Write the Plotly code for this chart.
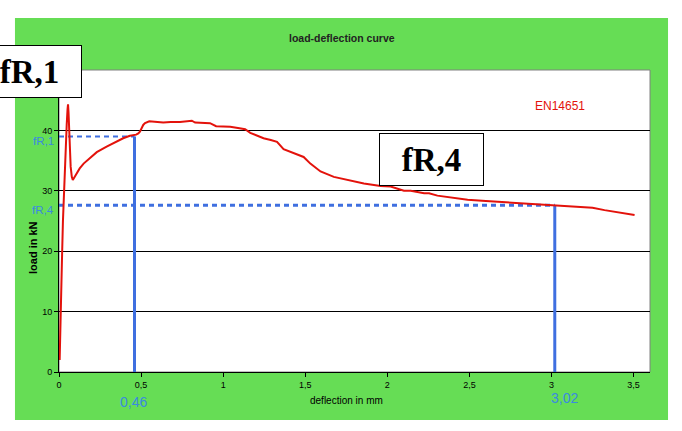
import plotly.graph_objects as go

# ---- data ----
deflection_mm = [0.004, 0.01, 0.015, 0.018, 0.024, 0.031, 0.039, 0.047, 0.052, 0.055,
                 0.058, 0.062, 0.067, 0.071, 0.078, 0.084, 0.095, 0.11, 0.126, 0.15,
                 0.188, 0.23, 0.29, 0.34, 0.391, 0.432, 0.452, 0.47, 0.483, 0.493,
                 0.513, 0.524, 0.55, 0.574, 0.6, 0.635, 0.68, 0.737, 0.78, 0.809,
                 0.829, 0.87, 0.92, 0.957, 1.0, 1.043, 1.09, 1.134, 1.165, 1.2,
                 1.246, 1.29, 1.328, 1.368, 1.42, 1.49, 1.531, 1.593, 1.674, 1.76,
                 1.857, 1.959, 2.02, 2.101, 2.142, 2.224, 2.254, 2.305, 2.4, 2.489,
                 2.6, 2.712, 2.85, 3.018, 3.16, 3.25, 3.323, 3.445, 3.506]
load_kN = [2, 7.5, 13, 18.5, 25, 30.6, 36, 41, 43.5, 44.3,
           43, 40, 36, 34, 32.3, 31.8, 32.3, 33, 33.7, 34.5,
           35.4, 36.4, 37.3, 38.0, 38.7, 39.1, 39.2, 39.3, 39.5, 39.8,
           40.9, 41.2, 41.5, 41.5, 41.4, 41.3, 41.4, 41.4, 41.5, 41.6,
           41.3, 41.3, 41.2, 40.7, 40.7, 40.6, 40.4, 40.2, 39.6, 39.2,
           38.7, 38.4, 38.1, 36.9, 36.3, 35.6, 34.5, 33.2, 32.3, 31.8,
           31.2, 30.8, 30.7, 30.0, 30.0, 29.6, 29.6, 29.2, 28.9, 28.5,
           28.3, 28.1, 27.9, 27.65, 27.4, 27.2, 26.8, 26.3, 26.0]

fr_labels = ["fR,1", "fR,4"]
fr_deflection = [0.46, 3.02]
fr_load = [39.0, 27.6]
fr_deflection_text = ["0,46", "3,02"]

x_tickvals = [0, 0.5, 1, 1.5, 2, 2.5, 3, 3.5]
x_ticktext = ["0", "0,5", "1", "1,5", "2", "2,5", "3", "3,5"]
y_tickvals = [0, 10, 20, 30, 40]
y_ticktext = ["0", "10", "20", "30", "40"]

BLUE = "#3f6fe0"
BLUE_TXT = "#3a8ae0"
RED = "#e3120b"
GREEN = "#66dd55"

fig = go.Figure()

# blue guide lines
dash_widths = [2, 3]
for i in range(len(fr_labels)):
    fig.add_trace(go.Scatter(x=[0, fr_deflection[i]], y=[fr_load[i], fr_load[i]],
                             mode="lines", line=dict(color=BLUE, width=dash_widths[i], dash="5px,4px"),
                             hoverinfo="skip", showlegend=False))
    fig.add_trace(go.Scatter(x=[fr_deflection[i], fr_deflection[i]], y=[0, fr_load[i]],
                             mode="lines", line=dict(color=BLUE, width=3),
                             hoverinfo="skip", showlegend=False))

fig.add_trace(go.Scatter(x=deflection_mm, y=load_kN, mode="lines",
                         line=dict(color=RED, width=2), name="EN14651", showlegend=False))

FONT = "Liberation Sans, Arial, sans-serif"
NARROW = "Liberation Sans Narrow, Arial Narrow, Liberation Sans, Arial, sans-serif"

fig.update_layout(
    width=682, height=431,
    margin=dict(l=59, r=32, t=70, b=59),
    paper_bgcolor="white", plot_bgcolor="white",
    font=dict(family=FONT, size=9, color="black"),
    showlegend=False,
    xaxis=dict(range=[0, 3.6], tickvals=x_tickvals, ticktext=x_ticktext,
               showgrid=False, zeroline=False, showline=True, linecolor="black", linewidth=1,
               ticks="outside", ticklen=4, tickcolor="black", tickfont=dict(size=9)),
    yaxis=dict(range=[0, 50], tickvals=y_tickvals, ticktext=y_ticktext,
               showgrid=True, gridcolor="black", gridwidth=1, zeroline=False,
               showline=True, linecolor="black", linewidth=1,
               ticks="outside", ticklen=4, tickcolor="black", tickfont=dict(size=9)),
    shapes=[
        dict(type="rect", xref="paper", yref="paper", x0=-0.0745, x1=1.0305, y0=-0.159, y1=1.172,
             fillcolor=GREEN, line=dict(width=0), layer="below"),
        dict(type="rect", xref="paper", yref="paper", x0=0, x1=1, y0=0, y1=1,
             fillcolor="white", line=dict(color="#808080", width=1), layer="below"),
    ],
)

W, H, L, T = 591, 302, 59, 70
def px2paper(px, py):
    return (px - L) / W, 1 - (py - T) / H

annotations = [
    dict(text="<b>load-deflection curve</b>", x=341.7, y=38, font=dict(size=10.5, color="#222222")),
    dict(text="EN14651", x=560, y=106, font=dict(size=12, color=RED)),
    dict(text="deflection in mm", x=346, y=400, font=dict(size=10, color="black")),
    dict(text="<b>load in kN</b>", x=33, y=248, font=dict(size=11, color="black"), textangle=-90),
]
for a in annotations:
    xp, yp = px2paper(a["x"], a["y"])
    fig.add_annotation(text=a["text"], xref="paper", yref="paper", x=xp, y=yp,
                       xanchor="center", yanchor="middle", showarrow=False,
                       font=dict(family=FONT, **a["font"]), textangle=a.get("textangle", 0))

# blue labels on axes
for i in range(len(fr_labels)):
    fig.add_annotation(text=fr_labels[i], xref="paper", yref="y", x=-4 / W, y=fr_load[i],
                       xanchor="right", yanchor="middle", showarrow=False, yshift=-5, borderpad=0,
                       font=dict(family=NARROW, size=11.5, color=BLUE_TXT))
label_y_px = [402, 398]
label_x_px = [133, 564]
for i in range(len(fr_labels)):
    xp, yp = px2paper(label_x_px[i], label_y_px[i])
    fig.add_annotation(text=fr_deflection_text[i], xref="paper", yref="paper", x=xp, y=yp,
                       xanchor="center", yanchor="middle", showarrow=False,
                       font=dict(family=NARROW, size=14, color=BLUE_TXT))

# big boxed labels
box_centers = [(29.5, 71.5), (431.5, 159.5)]
for i in range(len(fr_labels)):
    xp, yp = px2paper(*box_centers[i])
    fig.add_annotation(text="<b>" + fr_labels[i] + "</b>", xref="paper", yref="paper", x=xp, y=yp,
                       xanchor="center", yanchor="middle", showarrow=False,
                       width=93, height=41, borderpad=5, borderwidth=1, bordercolor="black",
                       bgcolor="white",
                       font=dict(family="Liberation Serif, Times New Roman, serif", size=33, color="black"))

fig.write_html("out.html", config={"displayModeBar": False},
               post_script="document.body.style.margin='0';")
